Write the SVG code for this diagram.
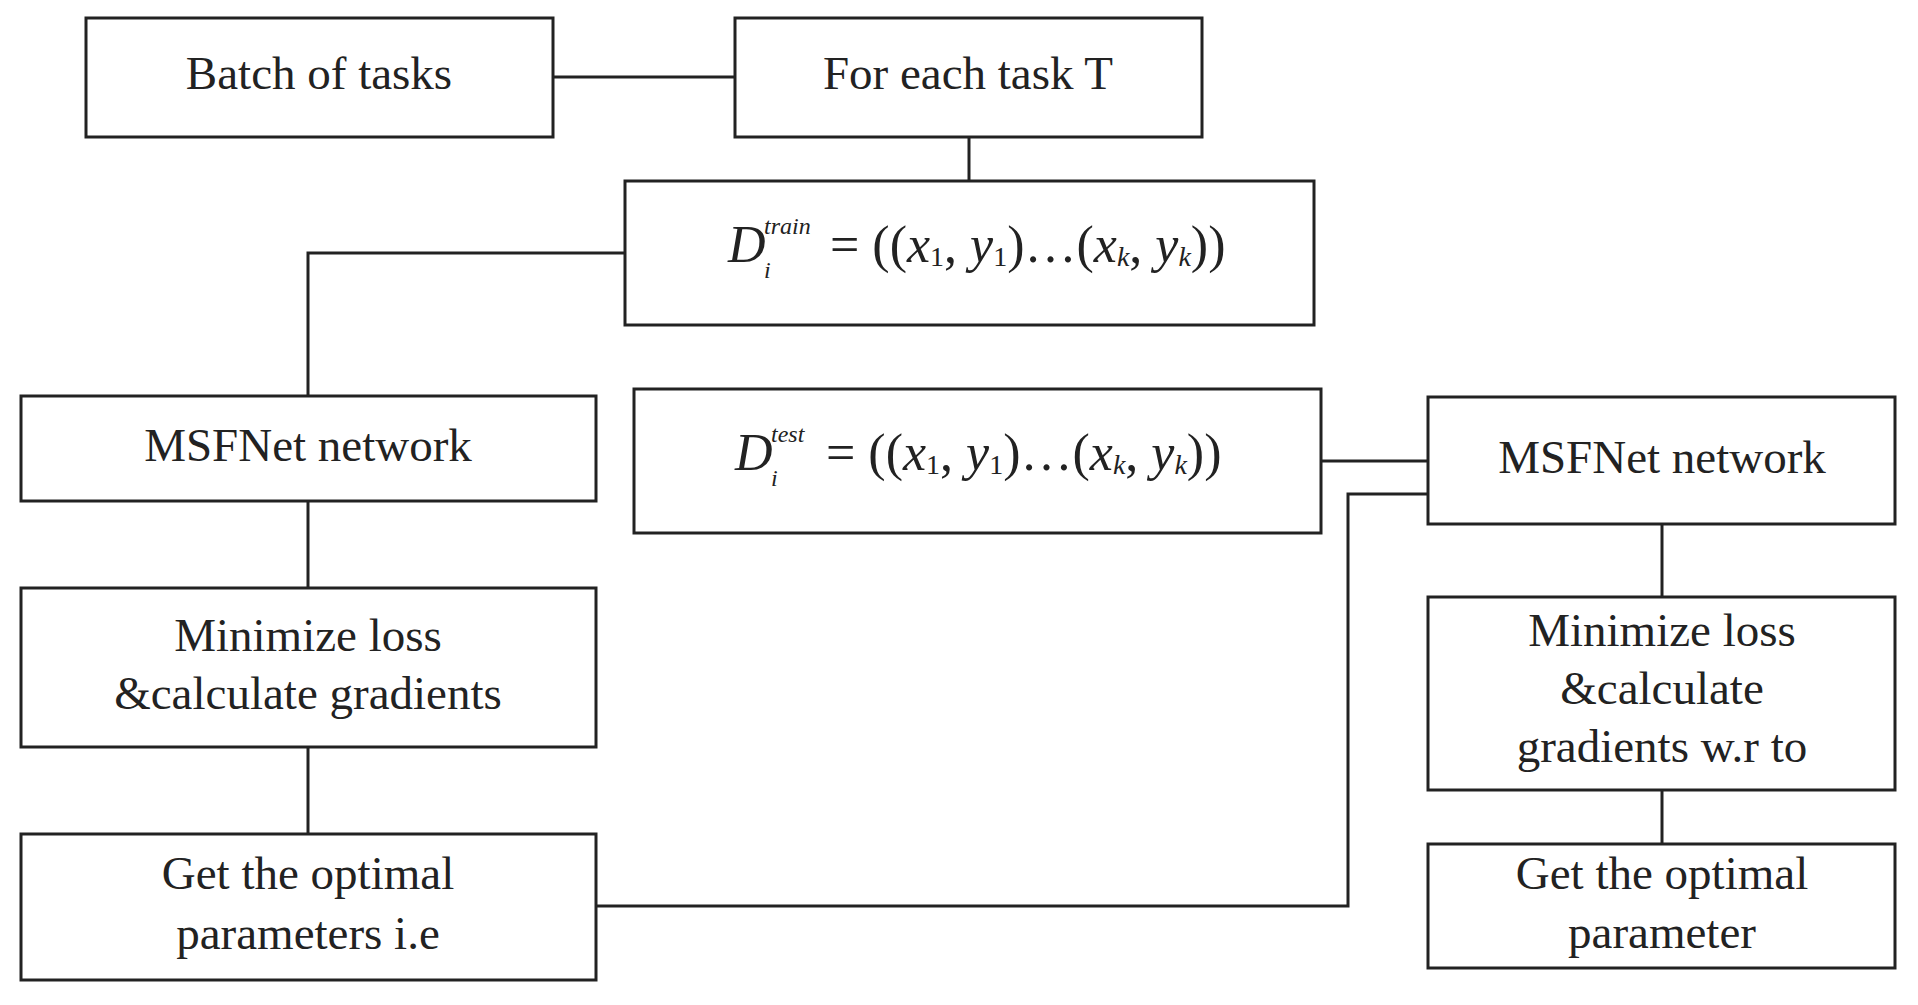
<svg xmlns="http://www.w3.org/2000/svg" width="1918" height="1005" viewBox="0 0 1918 1005">
<style>
rect{fill:#fff;stroke:#222;stroke-width:3}
.c{fill:none;stroke:#222;stroke-width:3}
text{font-family:"Liberation Serif",serif;font-size:47px;fill:#222;text-anchor:middle;dominant-baseline:middle}
.m{font-size:52px;text-anchor:start}
.s{font-size:28px}
.t{font-size:24px;font-style:italic;text-anchor:start}
</style>
<rect width="1918" height="1005" style="fill:#fff;stroke:none"/>
<g id="connectors">
<path class="c" d="M553 77H735"/>
<path class="c" d="M969 137V181"/>
<path class="c" d="M625 253H308V396"/>
<path class="c" d="M308 501V588"/>
<path class="c" d="M308 747V834"/>
<path class="c" d="M1321 461H1428"/>
<path class="c" d="M596 906H1348V494H1428"/>
<path class="c" d="M1662 524V597"/>
<path class="c" d="M1662 790V844"/>
</g>
<g id="batch"><rect x="86" y="18" width="467" height="119"/><text x="319" y="78">Batch of tasks</text></g>
<g id="foreach"><rect x="735" y="18" width="467" height="119"/><text x="968" y="78">For each task T</text></g>
<g id="dtrain"><rect x="625" y="181" width="689" height="144"/>
<text x="728" y="250" class="m"><tspan font-style="italic">D</tspan></text>
<text x="764" y="228" class="t">train</text>
<text x="764" y="272" class="t">i</text>
<text x="830" y="250" class="m"><tspan>= ((</tspan><tspan font-style="italic">x</tspan><tspan class="s" dy="10">1</tspan><tspan dy="-10">, </tspan><tspan font-style="italic">y</tspan><tspan class="s" dy="10">1</tspan><tspan dy="-10">)…(</tspan><tspan font-style="italic">x</tspan><tspan class="s" font-style="italic" dy="10">k</tspan><tspan dy="-10">, </tspan><tspan font-style="italic">y</tspan><tspan class="s" font-style="italic" dy="10">k</tspan><tspan dy="-10">))</tspan></text></g>
<g id="msfnet-left"><rect x="21" y="396" width="575" height="105"/><text x="308" y="450">MSFNet network</text></g>
<g id="dtest"><rect x="634" y="389" width="687" height="144"/>
<text x="735" y="458" class="m"><tspan font-style="italic">D</tspan></text>
<text x="771" y="436" class="t">test</text>
<text x="771" y="480" class="t">i</text>
<text x="826" y="458" class="m"><tspan>= ((</tspan><tspan font-style="italic">x</tspan><tspan class="s" dy="10">1</tspan><tspan dy="-10">, </tspan><tspan font-style="italic">y</tspan><tspan class="s" dy="10">1</tspan><tspan dy="-10">)…(</tspan><tspan font-style="italic">x</tspan><tspan class="s" font-style="italic" dy="10">k</tspan><tspan dy="-10">, </tspan><tspan font-style="italic">y</tspan><tspan class="s" font-style="italic" dy="10">k</tspan><tspan dy="-10">))</tspan></text></g>
<g id="msfnet-right"><rect x="1428" y="397" width="467" height="127"/><text x="1662" y="462">MSFNet network</text></g>
<g id="min-left"><rect x="21" y="588" width="575" height="159"/><text x="308" y="640">Minimize loss</text><text x="308" y="698">&amp;calculate gradients</text></g>
<g id="min-right"><rect x="1428" y="597" width="467" height="193"/><text x="1662" y="635">Minimize loss</text><text x="1662" y="693">&amp;calculate</text><text x="1662" y="751">gradients w.r to</text></g>
<g id="get-left"><rect x="21" y="834" width="575" height="146"/><text x="308" y="878">Get the optimal</text><text x="308" y="938">parameters i.e</text></g>
<g id="get-right"><rect x="1428" y="844" width="467" height="124"/><text x="1662" y="878">Get the optimal</text><text x="1662" y="937">parameter</text></g>
</svg>
